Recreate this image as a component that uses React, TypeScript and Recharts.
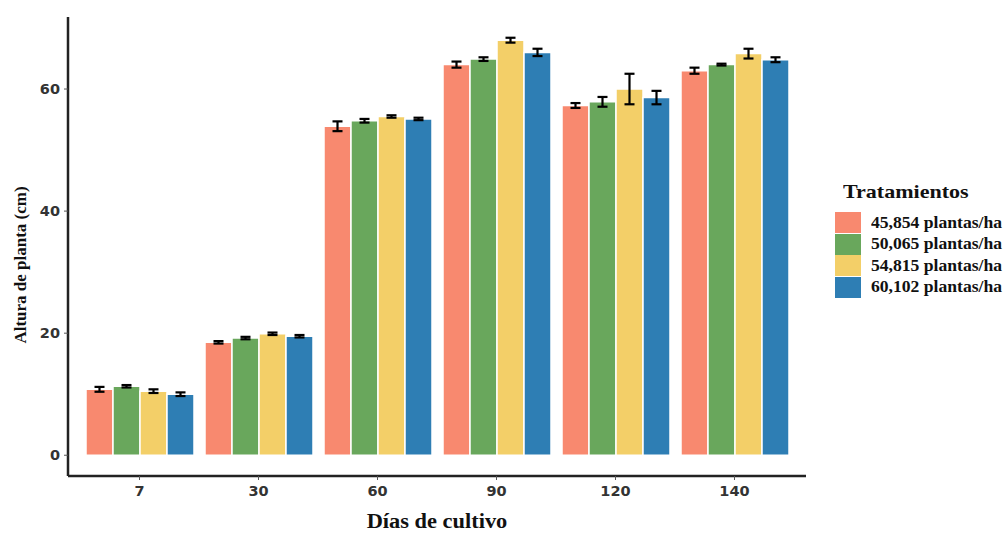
import React from 'react';
import { BarChart, Bar, XAxis, YAxis, ErrorBar } from 'recharts';

const dias = ['7', '30', '60', '90', '120', '140'];
const tratamientos = ['45,854 plantas/ha', '50,065 plantas/ha', '54,815 plantas/ha', '60,102 plantas/ha'];
const colores = ['#F8896F', '#69A75C', '#F3CF68', '#2E7EB4'];

const alt45854 = [10.8, 18.5, 53.9, 64.0, 57.3, 63.0];
const err45854 = [0.4, 0.2, 0.8, 0.5, 0.4, 0.5];
const alt50065 = [11.3, 19.2, 54.8, 64.9, 57.9, 64.0];
const err50065 = [0.2, 0.2, 0.3, 0.3, 0.8, 0.15];
const alt54815 = [10.5, 19.9, 55.5, 68.0, 60.0, 65.8];
const err54815 = [0.3, 0.2, 0.2, 0.4, 2.5, 0.8];
const alt60102 = [10.0, 19.5, 55.1, 66.0, 58.6, 64.8];
const err60102 = [0.3, 0.2, 0.2, 0.6, 1.1, 0.4];

const data = dias.map((d, i) => ({
  dia: d,
  a: alt45854[i], ea: err45854[i],
  b: alt50065[i], eb: err50065[i],
  c: alt54815[i], ec: err54815[i],
  d: alt60102[i], ed: err60102[i],
}));

const keys = [['a', 'ea'], ['b', 'eb'], ['c', 'ec'], ['d', 'ed']];

const tickStyle = { fontFamily: '"DejaVu Sans", sans-serif', fontWeight: 700, fontSize: 14.5, fill: '#333' };
const serif = '"Liberation Serif", "Times New Roman", serif';

const LegendBox = () => (
  <div style={{ position: 'absolute', left: 835, top: 181, fontFamily: serif, fontWeight: 700, color: '#111' }}>
    <div
      style={{
        fontSize: 19, marginBottom: 9, marginLeft: 8, whiteSpace: 'nowrap',
        transform: 'scaleX(1.16)', transformOrigin: 'left center',
      }}
    >
      Tratamientos
    </div>
    {tratamientos.map((t, i) => (
      <div key={t} style={{ display: 'flex', alignItems: 'center', height: 21.5 }}>
        <div style={{ width: 26, height: 21, background: colores[i], marginRight: 10 }} />
        <span
          style={{
            fontSize: 16, whiteSpace: 'nowrap', display: 'inline-block',
            transform: 'scaleX(1.1)', transformOrigin: 'left center',
          }}
        >
          {t}
        </span>
      </div>
    ))}
  </div>
);

export default function App() {
  return (
    <div style={{ position: 'absolute', top: 0, left: 0, width: 1006, height: 533, background: '#fff', overflow: 'hidden' }}>
      <BarChart
        width={1006}
        height={533}
        data={data}
        margin={{ top: 17, right: 200, bottom: 0, left: 0 }}
        barCategoryGap={6}
        barGap={0}
      >
        <XAxis
          dataKey="dia"
          height={57}
          padding={{ left: 12, right: 12 }}
          axisLine={{ stroke: '#222', strokeWidth: 2.5 }}
          tickLine={{ stroke: '#555' }}
          tickSize={4}
          tickMargin={6}
          tick={tickStyle}
        />
        <YAxis
          width={68}
          domain={[-3.4, 71.8]}
          ticks={[0, 20, 40, 60]}
          axisLine={{ stroke: '#222', strokeWidth: 2.5 }}
          tickLine={{ stroke: '#555' }}
          tickSize={4}
          tickMargin={4}
          tick={tickStyle}
        />
        {keys.map(([k, e], i) => (
          <Bar
            key={k}
            dataKey={k}
            name={tratamientos[i]}
            fill={colores[i]}
            stroke="#fff"
            strokeWidth={1.5}
            isAnimationActive={false}
          >
            <ErrorBar dataKey={e} width={5} stroke="#000" strokeWidth={2.2} direction="y" />
          </Bar>
        ))}
      </BarChart>
      <div
        style={{
          position: 'absolute', left: 21, top: 265, transform: 'translate(-50%, -50%) rotate(-90deg)',
          fontFamily: serif, fontWeight: 700, fontSize: 17, color: '#111', whiteSpace: 'nowrap',
        }}
      >
        Altura de planta (cm)
      </div>
      <div
        style={{
          position: 'absolute', left: 437, top: 521, transform: 'translate(-50%, -50%) scaleX(1.12)',
          fontFamily: serif, fontWeight: 700, fontSize: 20, color: '#111', whiteSpace: 'nowrap',
        }}
      >
        Días de cultivo
      </div>
      <LegendBox />
    </div>
  );
}
